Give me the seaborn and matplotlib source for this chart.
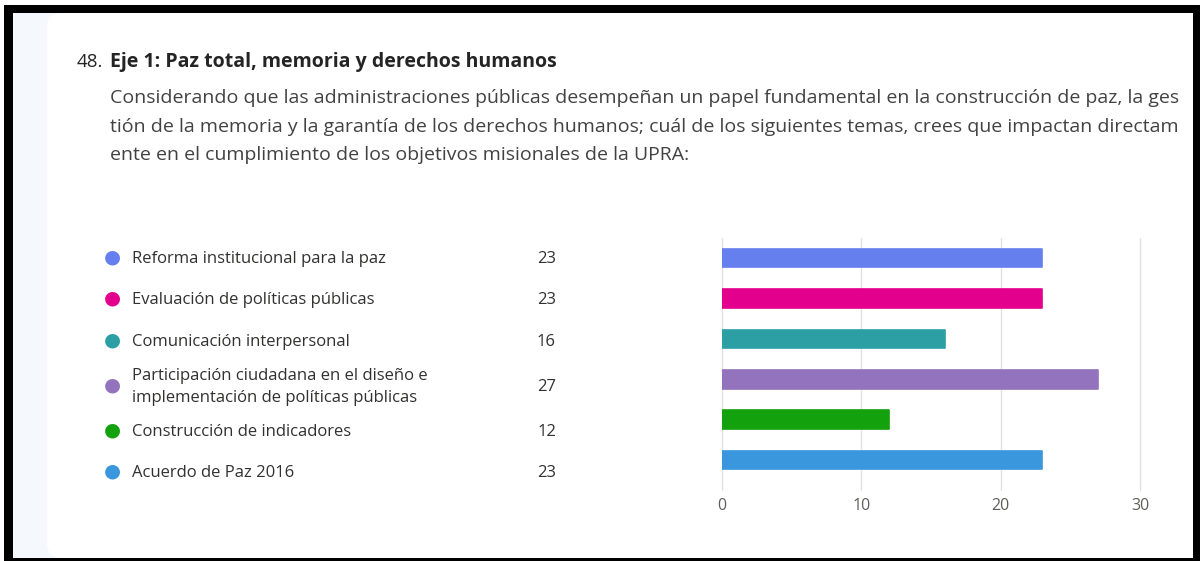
import matplotlib
matplotlib.use('Agg')
import matplotlib.pyplot as plt
from matplotlib.patches import Rectangle, FancyBboxPatch
import seaborn as sns
import pandas as pd

# Datos
opciones = [
    'Reforma institucional para la paz',
    'Evaluación de políticas públicas',
    'Comunicación interpersonal',
    'Participación ciudadana en el diseño e\nimplementación de políticas públicas',
    'Construcción de indicadores',
    'Acuerdo de Paz 2016',
]
respuestas = [23, 23, 16, 27, 12, 23]
colores = ['#667FEE', '#E3008C', '#2C9FA5', '#9373BD', '#13A10E', '#3A96DD']
ticks_x = [0, 10, 20, 30]

titulo_num = '48.'
titulo = 'Eje 1: Paz total, memoria y derechos humanos'
pregunta = [
    'Considerando que las administraciones públicas desempeñan un papel fundamental en la construcción de paz, la ges',
    'tión de la memoria y la garantía de los derechos humanos; cuál de los siguientes temas, crees que impactan directam',
    'ente en el cumplimiento de los objetivos misionales de la UPRA:',
]

W, H = 1200, 561


def fx(px):
    return px / W


def fy(py):
    return 1 - py / H


sns.set_theme(style='white')
plt.rcParams['font.family'] = ['Open Sans', 'DejaVu Sans']

fig = plt.figure(figsize=(12, 5.61), dpi=100)
fig.patch.set_facecolor('white')

# fondo y tarjeta
fig.patches.append(Rectangle((fx(13), fy(558)), fx(1180), 545 / H, transform=fig.transFigure,
                             facecolor='#F5F8FC', edgecolor='none', zorder=-2))
fig.patches.append(FancyBboxPatch((fx(62), fy(543)), fx(1160), 515 / H,
                                  boxstyle='round,pad=0.0125,rounding_size=0.0125',
                                  transform=fig.transFigure, facecolor='white',
                                  edgecolor='none', zorder=-1, mutation_aspect=W / H))
# marco negro
for x0, y0, x1, y1 in [(4, 5, 13, 561), (4, 5, 1200, 13), (1193, 5, 1200, 561), (4, 558, 1200, 561)]:
    fig.patches.append(Rectangle((fx(x0), fy(y1)), fx(x1 - x0), (y1 - y0) / H,
                                 transform=fig.transFigure, facecolor='black',
                                 edgecolor='none', zorder=3))

# titulo y pregunta
fig.text(fx(77), fy(62), titulo_num, fontsize=13.5, color='#242424', va='center')
fig.text(fx(110), fy(62), titulo, fontsize=14, color='#242424', va='center', fontweight='bold')
for i, linea in enumerate(pregunta):
    fig.text(fx(110), fy(98 + i * 28.5), linea, fontsize=14, color='#424242', va='center')

# leyenda con valores
leyenda_y = [259, 300, 342, 387, 432, 473]
for nombre, valor, color, yy in zip(opciones, respuestas, colores, leyenda_y):
    fig.text(fx(112), fy(yy - 1.5), '\u25CF', fontsize=14, color=color, va='center', ha='center')
    fig.text(fx(132), fy(yy), nombre, fontsize=12, color='#323130', va='center', linespacing=1.45)
    fig.text(fx(556), fy(yy), str(valor), fontsize=12, color='#323130', va='center', ha='right')

# barras
df = pd.DataFrame({'opcion': opciones, 'respuestas': respuestas})
ax = fig.add_axes([fx(722), fy(490), fx(1140 - 722), (490 - 238) / H])
sns.barplot(data=df, x='respuestas', y='opcion', hue='opcion', palette=colores,
            legend=False, width=0.46, ax=ax, orient='h', saturation=1)
for p, c in zip(ax.patches, colores):
    p.set_edgecolor(c)
    p.set_linewidth(1.2)
    p.set_joinstyle('round')
ax.set_xlim(0, 30)
ax.set_ylim(5.74, -0.5)
ax.set_xticks(ticks_x)
ax.set_xticklabels([str(t) for t in ticks_x])
ax.set_yticks([])
ax.set_xlabel('')
ax.set_ylabel('')
ax.set_facecolor('none')
for s in ax.spines.values():
    s.set_visible(False)
ax.grid(True, axis='x', color='#E1E1E1', linewidth=1)
ax.set_axisbelow(True)
for gl in ax.get_xgridlines():
    gl.set_clip_on(False)
ax.tick_params(axis='x', length=0, pad=6, labelsize=11.5, labelcolor='#605E5C')

fig.savefig('out.png', dpi=100)
